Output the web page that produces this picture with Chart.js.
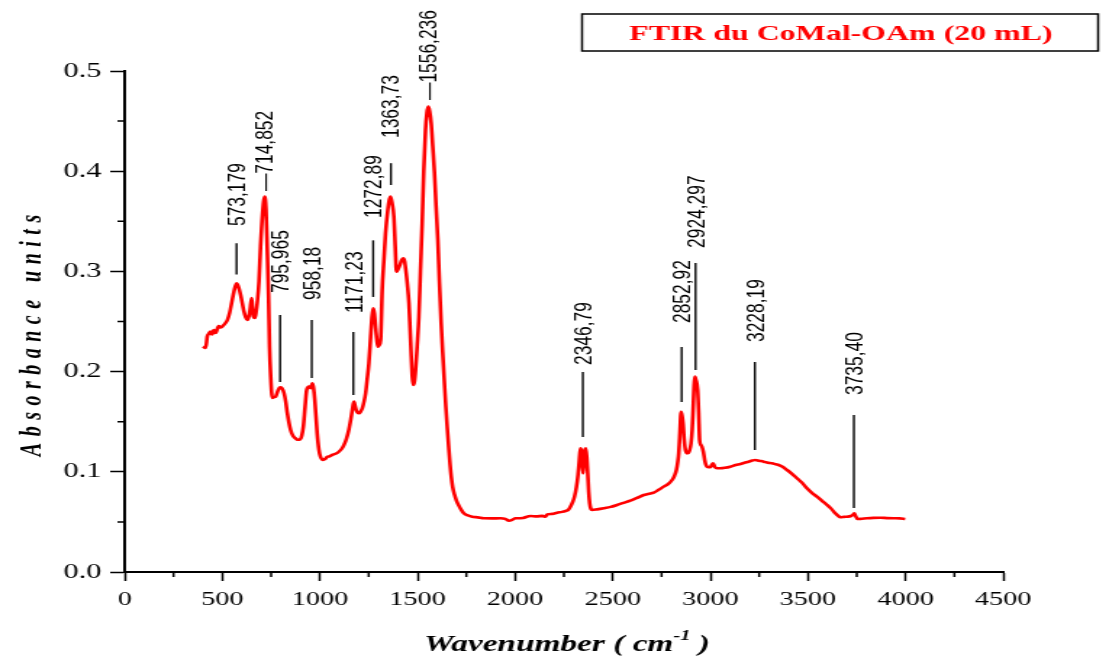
<!DOCTYPE html>
<html>
<head>
<meta charset="utf-8">
<title>FTIR du CoMal-OAm (20 mL)</title>
<script src="https://cdn.jsdelivr.net/npm/chart.js"></script>
<style>
  html, body { margin: 0; padding: 0; background: #fff; }
</style>
</head>
<body>
<!-- drawn at 765 px wide and shown at 1109 px: the figure is widened horizontally -->
<canvas id="ftirChart" width="765" height="658" style="width:1109px;height:658px"></canvas>
<script>
// spectrum: wavenumber (cm-1) and absorbance
const wavenumbers = [
  401, 415, 423, 432, 440, 448, 456, 466, 481, 490, 502, 514, 526, 538, 548, 560, 573, 584, 594, 611,
  620, 628, 636, 642, 650, 655, 659, 667, 673, 679, 688, 696, 706, 717, 724, 730, 737, 742, 748, 756,
  765, 773, 785, 795, 805, 816, 825, 833, 850, 862, 875, 885, 898, 907, 915, 924, 932, 944, 952, 962,
  968, 974, 986, 995, 1003, 1017, 1028, 1038, 1050, 1063, 1080, 1097, 1110, 1123, 1136, 1148, 1158, 1166, 1174, 1180,
  1186, 1193, 1200, 1208, 1217, 1226, 1234, 1242, 1251, 1260, 1267, 1273, 1279, 1285, 1291, 1297, 1304, 1311, 1319, 1328,
  1336, 1348, 1355, 1362, 1370, 1379, 1386, 1392, 1400, 1410, 1418, 1427, 1434, 1440, 1448, 1456, 1462, 1468, 1473, 1478,
  1484, 1490, 1498, 1507, 1515, 1524, 1532, 1541, 1548, 1555, 1562, 1570, 1578, 1587, 1595, 1604, 1612, 1621, 1630, 1638,
  1645, 1652, 1660, 1667, 1673, 1680, 1689, 1700, 1711, 1724, 1737, 1758, 1780, 1810, 1840, 1880, 1925, 1950, 1968, 1985,
  2002, 2010, 2040, 2079, 2110, 2140, 2155, 2164, 2190, 2215, 2240, 2258, 2272, 2283, 2295, 2304, 2314, 2321, 2328, 2334,
  2340, 2344, 2348, 2353, 2358, 2362, 2367, 2372, 2377, 2382, 2388, 2394, 2420, 2454, 2490, 2522, 2555, 2590, 2625, 2659,
  2685, 2710, 2735, 2761, 2785, 2804, 2816, 2826, 2833, 2838, 2843, 2850, 2855, 2860, 2866, 2872, 2878, 2884, 2893, 2901,
  2907, 2911, 2916, 2920, 2926, 2935, 2940, 2945, 2951, 2957, 2964, 2971, 2977, 2983, 2992, 3000, 3007, 3014, 3022, 3034,
  3051, 3075, 3102, 3130, 3154, 3175, 3196, 3215, 3230, 3250, 3273, 3295, 3316, 3335, 3350, 3370, 3393, 3418, 3444, 3470,
  3495, 3520, 3546, 3572, 3598, 3620, 3640, 3655, 3666, 3685, 3700, 3720, 3730, 3737, 3744, 3754, 3770, 3802, 3835, 3870,
  3905, 3939, 3970, 3998
];
const absorbance = [
  0.225, 0.2235, 0.235, 0.238, 0.240, 0.237, 0.2415, 0.2385, 0.2455, 0.244, 0.2455, 0.248, 0.2515, 0.259, 0.2685, 0.280, 0.288, 0.284, 0.2765, 0.260,
  0.254, 0.2515, 0.255, 0.2615, 0.2735, 0.264, 0.255, 0.2535, 0.259, 0.2685, 0.290, 0.3247, 0.357, 0.3746, 0.362, 0.3247, 0.275, 0.2249, 0.195, 0.1737,
  0.1745, 0.175, 0.181, 0.1843, 0.1835, 0.1786, 0.170, 0.1587, 0.1417, 0.136, 0.1334, 0.132, 0.1324, 0.136, 0.145, 0.165, 0.1816, 0.185, 0.1835, 0.1883,
  0.183, 0.1717, 0.1384, 0.122, 0.115, 0.1118, 0.113, 0.115, 0.1155, 0.1168, 0.118, 0.120, 0.1225, 0.1267, 0.133, 0.1417, 0.152, 0.1617, 0.170, 0.166,
  0.1617, 0.159, 0.1584, 0.160, 0.1634, 0.170, 0.1783, 0.192, 0.2083, 0.235, 0.255, 0.2632, 0.258, 0.2448, 0.233, 0.2249, 0.2265, 0.2315, 0.2814, 0.312,
  0.338, 0.362, 0.371, 0.3746, 0.368, 0.3546, 0.325, 0.2997, 0.302, 0.3064, 0.311, 0.3131, 0.310, 0.3014, 0.287, 0.2682, 0.242, 0.2149, 0.195, 0.1866,
  0.190, 0.2016, 0.225, 0.2548, 0.300, 0.348, 0.400, 0.4411, 0.458, 0.4644, 0.460, 0.4478, 0.425, 0.3979, 0.365, 0.3313, 0.290, 0.2482, 0.215, 0.188,
  0.165, 0.145, 0.124, 0.107, 0.095, 0.085, 0.0775, 0.071, 0.0665, 0.062, 0.0586, 0.0565, 0.0552, 0.0545, 0.0536, 0.0535, 0.0536, 0.053, 0.0512, 0.052,
  0.0536, 0.0536, 0.054, 0.0559, 0.0555, 0.056, 0.0552, 0.0575, 0.058, 0.0592, 0.060, 0.0609, 0.062, 0.0652, 0.070, 0.0752, 0.085, 0.0952, 0.110, 0.1234,
  0.120, 0.108, 0.0985, 0.110, 0.122, 0.1234, 0.115, 0.0985, 0.080, 0.0685, 0.063, 0.0619, 0.0625, 0.0636, 0.065, 0.0669, 0.069, 0.0712, 0.074, 0.0768,
  0.078, 0.0792, 0.082, 0.0852, 0.088, 0.0918, 0.096, 0.1018, 0.110, 0.1185, 0.135, 0.160, 0.156, 0.1484, 0.132, 0.1218, 0.119, 0.1185, 0.121, 0.1284,
  0.142, 0.1584, 0.183, 0.195, 0.192, 0.1816, 0.160, 0.1317, 0.127, 0.125, 0.120, 0.1118, 0.107, 0.1051, 0.1045, 0.1045, 0.107, 0.1085, 0.105, 0.1035,
  0.1035, 0.104, 0.1051, 0.1068, 0.1078, 0.109, 0.1101, 0.1112, 0.1118, 0.111, 0.1101, 0.109, 0.1085, 0.1075, 0.1068, 0.105, 0.1018, 0.098, 0.0935, 0.089,
  0.0835, 0.079, 0.0752, 0.071, 0.0669, 0.063, 0.0586, 0.056, 0.0546, 0.055, 0.0552, 0.0559, 0.057, 0.0586, 0.056, 0.0529, 0.053, 0.0536, 0.054, 0.0542,
  0.0538, 0.0536, 0.0535, 0.0529
];

// axis ticks
const xTicks = [0, 500, 1000, 1500, 2000, 2500, 3000, 3500, 4000, 4500];
const xMinorTicks = [250, 750, 1250, 1750, 2250, 2750, 3250, 3750, 4250];
const yTicks = [0, 0.1, 0.2, 0.3, 0.4, 0.5];
const yMinorTicks = [0.05, 0.15, 0.25, 0.35, 0.45];

// peak labels
const peakWavenumbers = [573.179, 714.852, 795.965, 958.18, 1171.23, 1272.89, 1363.73, 1556.236, 2346.79, 2852.92, 2924.297, 3228.19, 3735.40];
const peakLabels = ["573,179", "\u2014714,852", "795,965", "958,18", "1171,23", "1272,89", "1363,73", "\u20141556,236", "2346,79", "2852,92", "2924,297", "3228,19", "3735,40"];

// leader line ends and where the label text starts (absorbance units); null = no line
const leaderTop = [0.328, null, 0.2565, 0.2515, 0.2395, 0.331, 0.408, null, 0.1996, 0.2246, 0.3084, 0.2096, 0.1567];
const leaderBottom = [0.297, null, 0.1896, 0.1936, 0.1766, 0.2745, 0.3862, null, 0.1347, 0.1697, 0.2016, 0.1218, 0.0639];
const labelBase = [0.3453, 0.3802, 0.2784, 0.2715, 0.2585, 0.3533, 0.4331, 0.4711, 0.2066, 0.2485, 0.3234, 0.2295, 0.1766];

const chartTitle = "FTIR du CoMal-OAm (20 mL)";
const yTitle = "Absorbance units";

const serif = "'Liberation Serif', 'Times New Roman', serif";
const sans = "'Liberation Sans', Arial, sans-serif";

const extras = {
  id: "extras",
  afterDraw(chart) {
    const ctx = chart.ctx;
    const xs = chart.scales.x;
    const ys = chart.scales.y;
    ctx.save();

    // minor ticks
    ctx.strokeStyle = "#000";
    ctx.lineWidth = 1.5;
    ctx.beginPath();
    xMinorTicks.forEach((v) => {
      const px = xs.getPixelForValue(v);
      ctx.moveTo(px, xs.top);
      ctx.lineTo(px, xs.top + 5);
    });
    yMinorTicks.forEach((v) => {
      const py = ys.getPixelForValue(v);
      ctx.moveTo(ys.right, py);
      ctx.lineTo(ys.right - 5, py);
    });
    ctx.stroke();

    // peak labels with their leader lines
    ctx.lineWidth = 1.4;
    ctx.fillStyle = "#000";
    ctx.font = "17.4px " + sans;
    ctx.textAlign = "left";
    ctx.textBaseline = "middle";
    peakWavenumbers.forEach((wn, i) => {
      const px = xs.getPixelForValue(wn);
      if (leaderTop[i] !== null) {
        ctx.beginPath();
        ctx.moveTo(px, ys.getPixelForValue(leaderTop[i]));
        ctx.lineTo(px, ys.getPixelForValue(leaderBottom[i]));
        ctx.stroke();
      }
      ctx.save();
      ctx.translate(px, ys.getPixelForValue(labelBase[i]));
      ctx.rotate(-Math.PI / 2);
      ctx.fillText(peakLabels[i], 0, 1);
      ctx.restore();
    });

    // boxed title, top right
    ctx.lineWidth = 1.5;
    ctx.strokeRect(401.5, 14, 356, 37);
    ctx.fillStyle = "#ff0000";
    ctx.font = "bold 22px " + serif;
    ctx.textAlign = "center";
    ctx.textBaseline = "alphabetic";
    ctx.fillText(chartTitle, 580, 40);

    // x axis title with superscript
    ctx.fillStyle = "#000";
    const mainFont = "italic bold 23px " + serif;
    const supFont = "italic bold 14px " + serif;
    const parts = [
      { t: "Wavenumber ( cm", f: mainFont, dy: 0 },
      { t: "-1", f: supFont, dy: -11 },
      { t: " )", f: mainFont, dy: 0 },
    ];
    let total = 0;
    parts.forEach((p) => { ctx.font = p.f; p.w = ctx.measureText(p.t).width; total += p.w; });
    let cx = (xs.left + xs.right) / 2 - total / 2 + 2;
    ctx.textAlign = "left";
    parts.forEach((p) => {
      ctx.font = p.f;
      ctx.fillText(p.t, cx, 651 + p.dy);
      cx += p.w;
    });

    // y axis title, letter spaced
    ctx.font = "italic bold 20px " + serif;
    const spacing = 6.5;
    const chars = Array.from(yTitle);
    const widths = chars.map((c) => ctx.measureText(c).width);
    const len = widths.reduce((a, b) => a + b, 0) + spacing * (chars.length - 1);
    ctx.save();
    ctx.translate(28, (ys.top + ys.bottom) / 2 + 14);
    ctx.rotate(-Math.PI / 2);
    let tx = -len / 2;
    chars.forEach((c, i) => {
      ctx.fillText(c, tx, 0);
      tx += widths[i] + spacing;
    });
    ctx.restore();

    ctx.restore();
  },
};

const ctx = document.getElementById("ftirChart").getContext("2d");

new Chart(ctx, {
  type: "line",
  data: {
    datasets: [
      {
        label: "CoMal-OAm",
        data: wavenumbers.map((wn, i) => ({ x: wn, y: absorbance[i] })),
        borderColor: "#ff0000",
        borderWidth: 2.6,
        pointRadius: 0,
        fill: false,
        cubicInterpolationMode: "monotone",
      },
    ],
  },
  options: {
    responsive: false,
    animation: false,
    devicePixelRatio: 1,
    layout: {
      padding: { top: 71, right: 73, left: 0, bottom: 0 },
    },
    plugins: {
      legend: { display: false },
      tooltip: { enabled: false },
    },
    scales: {
      x: {
        type: "linear",
        min: 0,
        max: 4500,
        afterBuildTicks: (axis) => {
          axis.ticks = xTicks.map((v) => ({ value: v }));
        },
        afterFit: (axis) => {
          axis.height = 86;
        },
        border: { display: true, color: "#000", width: 2 },
        grid: {
          drawOnChartArea: false,
          drawTicks: true,
          tickLength: 9,
          tickWidth: 1.5,
          tickColor: "#000",
        },
        ticks: {
          color: "#000",
          padding: 7,
          maxRotation: 0,
          font: { family: serif, size: 19.5 },
          callback: (v) => String(v),
        },
      },
      y: {
        type: "linear",
        min: 0,
        max: 0.5,
        afterBuildTicks: (axis) => {
          axis.ticks = yTicks.map((v) => ({ value: v }));
        },
        afterFit: (axis) => {
          axis.width = 86;
        },
        border: { display: true, color: "#000", width: 2 },
        grid: {
          drawOnChartArea: false,
          drawTicks: true,
          tickLength: 10,
          tickWidth: 1.5,
          tickColor: "#000",
        },
        ticks: {
          color: "#000",
          padding: 6,
          font: { family: serif, size: 21 },
          callback: (v) => v.toFixed(1),
        },
      },
    },
  },
  plugins: [extras],
});
</script>
</body>
</html>
